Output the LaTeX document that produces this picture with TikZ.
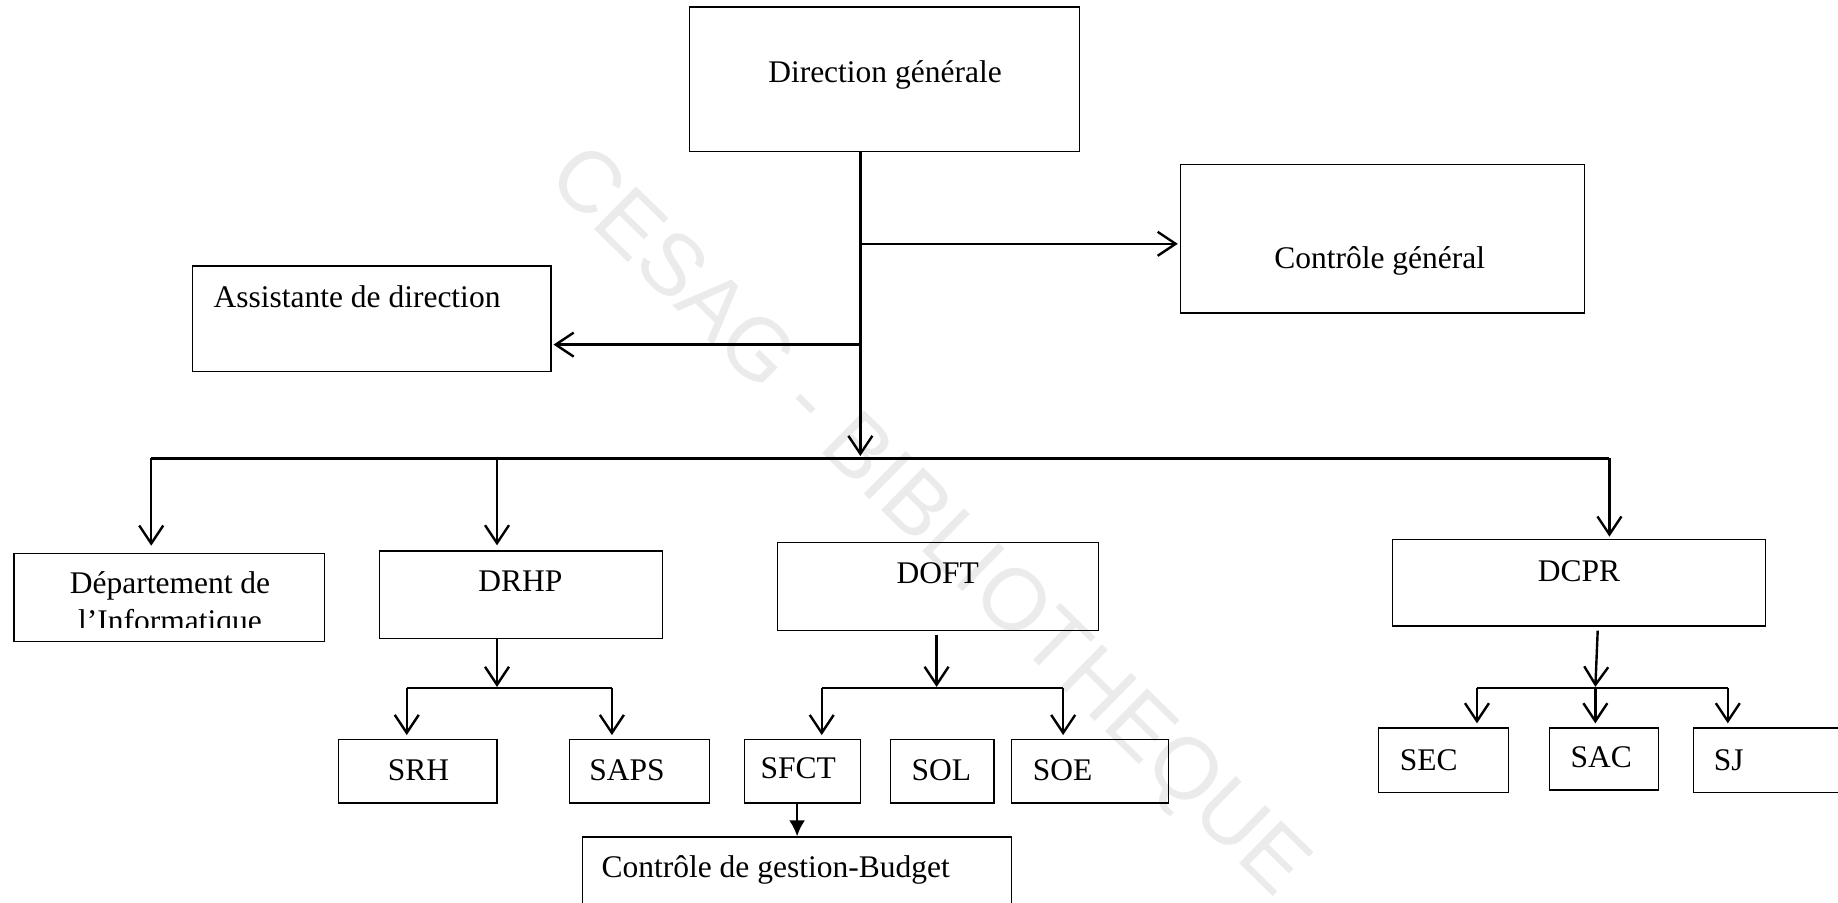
\documentclass[tikz,border=0pt]{standalone}
\usepackage{fontspec}
\setmainfont{Liberation Serif}
\newfontfamily\wmfont{Liberation Sans}
\usetikzlibrary{arrows.meta,fit,calc}
\begin{document}
\begin{tikzpicture}[x=1.1722pt,y=-1.1722pt,
  box/.style={draw,line width=1.2pt,inner sep=0pt},
  lbl/.style={font=\fontsize{31.5}{38}\selectfont,inner sep=0pt,anchor=base},
  lbll/.style={lbl,anchor=base west},
  conn/.style={line width=2.4pt},
  barb/.style={-{Straight Barb[length=18pt,width=24pt,line width=2.4pt]}},
  fillarr/.style={-{Latex[length=16pt,width=16pt]}},
]
\useasboundingbox[fill=white] (0,0) rectangle (1568,770);

% watermark
\node[font=\wmfont\fontsize{87}{90}\selectfont,text=gray!16,rotate=-44.5,inner sep=0pt] (wm) at (790,447) {CESAG - BIBLIOTHEQUE};

% boxes
\node[box,fit={(588,6) (921,129)}] (dg) {};
\node[box,fit={(1007,140) (1352,267)}] (cg) {};
\node[box,fit={(164,227) (470,317)}] (ad) {};
\node[box,fit={(12,472) (277,547)}] (dep) {};
\node[box,fit={(324,470) (565,545)}] (drhp) {};
\node[box,fit={(663,463) (937,538)}] (doft) {};
\node[box,fit={(1188,460) (1506,534)}] (dcpr) {};
\node[box,fit={(289,631) (424,685)}] (srh) {};
\node[box,fit={(486,631) (605,685)}] (saps) {};
\node[box,fit={(635,631) (734,685)}] (sfct) {};
\node[box,fit={(760,631) (848,685)}] (sol) {};
\node[box,fit={(863,631) (997,685)}] (soe) {};
\node[box,fit={(497,714) (863,800)}] (cgb) {};
\node[box,fit={(1176,621) (1287,676)}] (sec) {};
\node[box,fit={(1322,621) (1415,674)}] (sac) {};
\node[box,fit={(1445,621) (1600,676)}] (sj) {};

% labels
\node[lbl] (tdg) at (755,70) {Direction générale};
\node[lbl] (tcg) at (1177,229) {Contrôle général};
\node[lbll] (tad) at (182,262) {Assistante de direction};
\begin{scope}
\clip (12,472) rectangle (277,535);
\node[lbl] (tdep1) at (145,506) {Département de};
\node[lbl] (tdep2) at (145,539) {l’Informatique};
\end{scope}
\node[lbl] (tdrhp) at (444,505) {DRHP};
\node[lbl] (tdoft) at (800,498) {DOFT};
\node[lbl] (tdcpr) at (1347,496) {DCPR};
\node[lbl] (tsrh) at (357,666) {SRH};
\node[lbl] (tsaps) at (535,666) {SAPS};
\node[lbl] (tsfct) at (681,664) {SFCT};
\node[lbl] (tsol) at (803,666) {SOL};
\node[lbll] (tsoe) at (881,666) {SOE};
\node[lbll] (tcgb) at (513,749) {Contrôle de gestion-Budget};
\node[lbll] (tsec) at (1194,657) {SEC};
\node[lbl] (tsac) at (1366,655) {SAC};
\node[lbll] (tsj) at (1462,657) {SJ};

% main trunk
\coordinate (tkx) at (734,0);
\coordinate (bt) at (734,389);
\coordinate (j1) at (734,208);
\coordinate (j2) at (734,294);
\draw[conn,barb] (dg.south -| tkx) -- (bt);
\draw[conn,barb] (j1) -- ([xshift=-2pt]cg.west |- j1);
\draw[conn,barb] (j2) -- ([xshift=2pt]ad.east |- j2);

% main bus
\coordinate (bl) at (129,391);
\coordinate (b2) at (424,391);
\coordinate (br) at (1373,391);
\draw[conn] (bl) -- (br);
\draw[conn,barb] (bl) -- ([yshift=7pt]bl |- dep.north);
\draw[conn,barb] (b2) -- ([yshift=5pt]b2 |- drhp.north);
\draw[conn,barb] (br) -- ([yshift=2pt]br |- dcpr.north);

% DRHP
\coordinate (hb) at (424,586);
\coordinate (hl) at (347,587);
\coordinate (hr) at (522,587);
\draw[conn,barb] (drhp.south -| hb) -- (hb);
\draw[conn] (hl) -- (hr);
\draw[conn,barb] (hl) -- ([yshift=4pt]hl |- srh.north);
\draw[conn,barb] (hr) -- ([yshift=4pt]hr |- saps.north);

% DOFT
\coordinate (ob) at (799,586);
\coordinate (ol) at (701,587);
\coordinate (or) at (907,587);
\draw[conn,barb] ([yshift=-4pt]doft.south -| ob) -- (ob);
\draw[conn] (ol) -- (or);
\draw[conn,barb] (ol) -- ([yshift=4pt]ol |- sfct.north);
\draw[conn,barb] (or) -- ([yshift=4pt]or |- soe.north);

% SFCT -> CGB
\coordinate (sx) at (680,0);
\draw[conn,fillarr] (sfct.south -| sx) -- (cgb.north -| sx);

% DCPR
\coordinate (cb) at (1361,586);
\coordinate (ctop) at (1363,538);
\coordinate (cl) at (1260,587);
\coordinate (cm) at (1361,587);
\coordinate (cr) at (1474,587);
\draw[conn,barb] (ctop) -- (cb);
\draw[conn] (cl) -- (cr);
\draw[conn,barb] (cl) -- ([yshift=4pt]cl |- sec.north);
\draw[conn,barb] (cm) -- ([yshift=4pt]cm |- sac.north);
\draw[conn,barb] (cr) -- ([yshift=4pt]cr |- sj.north);
\end{tikzpicture}
\end{document}
